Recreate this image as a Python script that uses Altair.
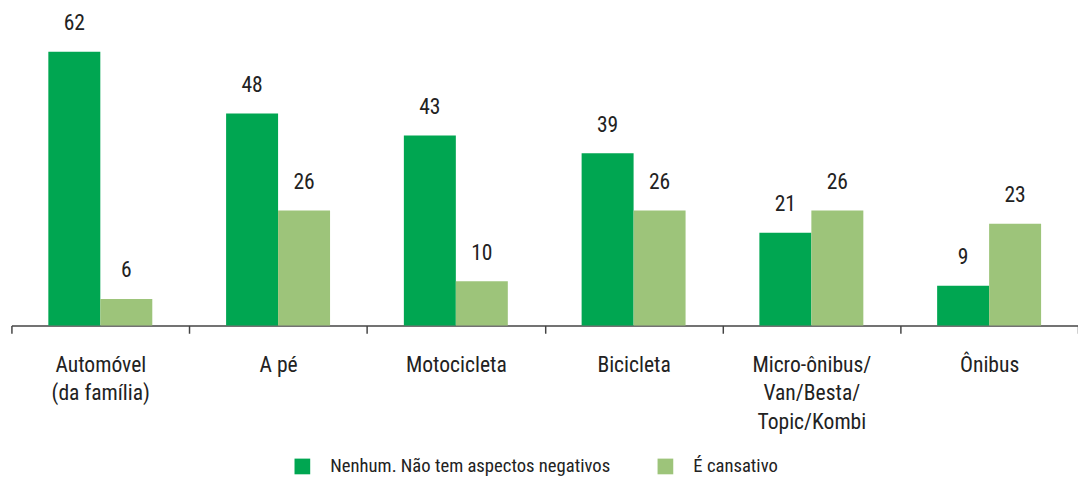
import altair as alt
import pandas as pd

categories = ["Automóvel|(da família)", "A pé", "Motocicleta", "Bicicleta",
              "Micro-ônibus/|Van/Besta/|Topic/Kombi", "Ônibus"]
series = ["Nenhum. Não tem aspectos negativos", "É cansativo"]
nenhum = [62, 48, 43, 39, 21, 9]
cansativo = [6, 26, 10, 26, 26, 23]
colors = ["#00a651", "#9dc47a"]

rows = []
for c, a, b in zip(categories, nenhum, cansativo):
    rows.append({"cat": c, "serie": series[0], "v": a})
    rows.append({"cat": c, "serie": series[1], "v": b})
df = pd.DataFrame(rows)

FONT = "Roboto Condensed, Roboto, sans-serif"
FW = 400

x = alt.X("cat:N", sort=categories, title=None,
          scale=alt.Scale(paddingInner=0, paddingOuter=0),
          axis=alt.Axis(labelExpr="split(datum.label, '|')", labelAngle=0,
                        tickBand="extent", domainColor="#444", domainWidth=1.5,
                        tickColor="#444", tickWidth=1.5, tickSize=8,
                        labelFontSize=22, labelColor="#222", labelFont=FONT,
                        labelFontWeight=FW,
                        labelPadding=22, labelLineHeight=29, labelBaseline="top"))
xo = alt.XOffset("serie:N", sort=series,
                 scale=alt.Scale(paddingInner=0, paddingOuter=0.71))
y = alt.Y("v:Q", scale=alt.Scale(domain=[0, 62]), axis=None)

color = alt.Color("serie:N", sort=series,
                  scale=alt.Scale(domain=series, range=colors),
                  legend=alt.Legend(title=None, orient="none", legendX=287, legendY=413,
                                    direction="horizontal", symbolType="square",
                                    symbolSize=256, symbolStrokeWidth=0,
                                    labelFontSize=19, labelFont=FONT, labelColor="#222",
                                    labelFontWeight=FW,
                                    labelLimit=0, labelOffset=19, columnPadding=46,
                                    padding=0))

bars = alt.Chart(df).mark_bar().encode(x=x, xOffset=xo, y=y, color=color)
labels = alt.Chart(df).mark_text(dy=-29, baseline="middle", fontSize=22,
                                 font=FONT, fontWeight=FW, color="#222").encode(
    x=alt.X("cat:N", sort=categories), xOffset=xo, y=y, text="v:Q")

chart = (bars + labels).properties(
    width=1087, height=279,
    autosize=alt.AutoSizeParams(type="none"),
    padding={"left": 3.5, "top": 40, "right": 0, "bottom": 150},
).configure_view(stroke=None)

chart.save("out.html", embed_options={"renderer": "svg", "actions": False})
